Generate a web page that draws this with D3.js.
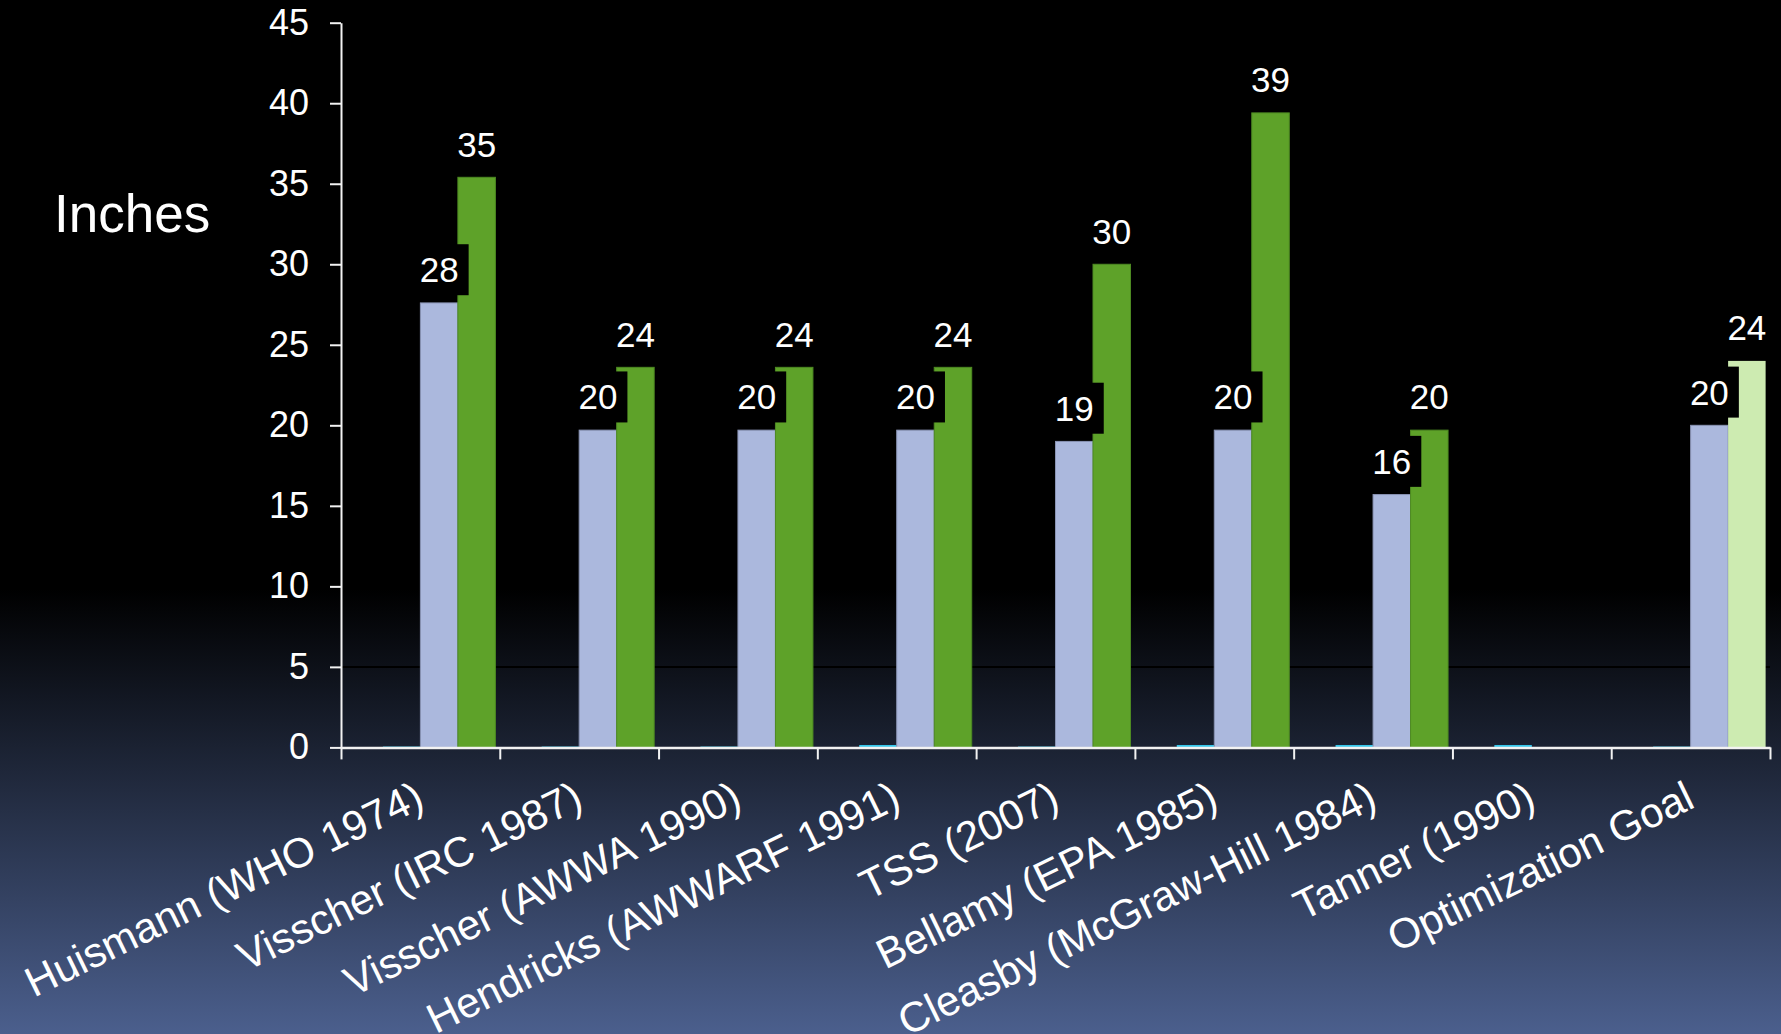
<!DOCTYPE html>
<html>
<head>
<meta charset="utf-8">
<script src="https://cdn.jsdelivr.net/npm/d3@7"></script>
<style>
  html, body { margin: 0; padding: 0; background: #000; }
  svg { display: block; }
  text { font-family: "Liberation Sans", Arial, sans-serif; fill: #ffffff; }
</style>
</head>
<body>
<svg id="chart" width="1781" height="1034"></svg>
<script>
// Chart values
var categories = [
  "Huismann (WHO 1974)",
  "Visscher (IRC 1987)",
  "Visscher (AWWA 1990)",
  "Hendricks (AWWARF 1991)",
  "TSS (2007)",
  "Bellamy (EPA 1985)",
  "Cleasby (McGraw-Hill 1984)",
  "Tanner (1990)",
  "Optimization Goal"
];
// four series per category; the first one is empty in the source chart
var seriesKeys = ["blank", "thin", "low", "high"];
var blankValues = [0, 0, 0, 0, 0, 0, 0, 0, 0];
var thinValues  = [0.05, 0.05, 0.05, 0.15, 0.05, 0.15, 0.15, 0.15, 0.05];
var lowValues   = [27.6, 19.7, 19.7, 19.7, 19.0, 19.7, 15.7, null, 20.0];
var highValues  = [35.4, 23.6, 23.6, 23.6, 30.0, 39.4, 19.7, null, 24.0];
var yTicks = [0, 5, 10, 15, 20, 25, 30, 35, 40, 45];
var yTitle = "Inches";

var seriesColors = { blank: "none", thin: "#35c6ea", low: "#abb8dd", high: "#5ea229" };
var seriesStroke = { blank: "none", thin: "none", low: "#8a94b4", high: "#4d8a22" };
var goalColor = "#cdebb1";

var svg = d3.select("#chart"),
  W = +svg.attr("width"),
  H = +svg.attr("height");

// Background: black top fading to slate blue at the bottom
var defs = svg.append("defs");
var grad = defs.append("linearGradient")
  .attr("id", "bg").attr("x1", 0).attr("y1", 0).attr("x2", 0).attr("y2", 1);
grad.append("stop").attr("offset", 0).attr("stop-color", "#000000");
grad.append("stop").attr("offset", 0.57).attr("stop-color", "#000000");
grad.append("stop").attr("offset", 1).attr("stop-color", "#4b5f8d");
svg.append("rect").attr("width", W).attr("height", H).attr("fill", "url(#bg)");

var plot = { left: 341, right: 1770, top: 22.7, bottom: 747.4 };

var y = d3.scaleLinear().domain([0, 45]).range([plot.bottom, plot.top]);
var x0 = d3.scaleBand().domain(categories).range([plot.left, plot.right]).padding(0);
var x1 = d3.scaleBand().domain(seriesKeys).range([0, x0.bandwidth()])
  .paddingInner(0).paddingOuter(0.117);
var xEdge = d3.scaleLinear().domain([0, categories.length]).range([plot.left, plot.right]);

// faint dark band line at the 5 level
svg.append("line")
  .attr("x1", plot.left).attr("x2", plot.right)
  .attr("y1", y(5)).attr("y2", y(5))
  .attr("stroke", "#000").attr("stroke-width", 2);

var rows = categories.map(function(c, i) {
  return { cat: c, blank: blankValues[i], thin: thinValues[i], low: lowValues[i], high: highValues[i] };
});

var bars = [];
rows.forEach(function(r) {
  seriesKeys.forEach(function(k) {
    if (r[k] === null || k === "blank") { return; }
    bars.push({ cat: r.cat, key: k, value: r[k] });
  });
});

function barFill(d) {
  if (d.key === "high" && d.cat === "Optimization Goal") { return goalColor; }
  return seriesColors[d.key];
}
function barStroke(d) {
  if (d.key === "high" && d.cat === "Optimization Goal") { return "none"; }
  return seriesStroke[d.key];
}

svg.append("g").selectAll("rect")
  .data(bars)
  .enter()
  .append("rect")
    .attr("x", function(d) { return x0(d.cat) + x1(d.key); })
    .attr("y", function(d) { return y(d.value); })
    .attr("width", x1.bandwidth())
    .attr("height", function(d) { return y(0) - y(d.value); })
    .attr("fill", barFill)
    .attr("stroke", barStroke)
    .attr("stroke-width", 1);

// Data labels with black boxes behind them
var fmt = d3.format(".0f");
var labelled = bars.filter(function(d) { return d.key === "low" || d.key === "high"; });
var lab = svg.append("g").selectAll("g")
  .data(labelled)
  .enter()
  .append("g")
    .attr("transform", function(d) {
      var cx = x0(d.cat) + x1(d.key) + x1.bandwidth() / 2;
      return "translate(" + cx + "," + (y(d.value) - 20.7) + ")";
    });
lab.append("rect")
  .attr("x", -29.5).attr("y", -38).attr("width", 59).attr("height", 51)
  .attr("fill", "#000");
lab.append("text")
  .attr("text-anchor", "middle")
  .attr("font-size", 35)
  .text(function(d) { return fmt(d.value); });

// Y axis
var yAxis = svg.append("g")
  .attr("transform", "translate(" + plot.left + ",0)")
  .call(d3.axisLeft(y).tickValues(yTicks).tickSize(11).tickSizeOuter(0).tickPadding(21));
yAxis.select(".domain").attr("stroke", "#f2f2f2").attr("stroke-width", 2);
yAxis.selectAll(".tick line").attr("stroke", "#f2f2f2").attr("stroke-width", 2);
yAxis.selectAll(".tick text")
  .attr("font-size", 36).attr("fill", "#fff")
  .style("font-family", "'Liberation Sans', Arial, sans-serif");

// X axis: ticks on category boundaries
var xAxis = svg.append("g")
  .attr("transform", "translate(0," + plot.bottom + ")")
  .call(d3.axisBottom(xEdge).tickValues(d3.range(categories.length + 1))
    .tickSize(12).tickSizeOuter(0).tickFormat(""));
xAxis.select(".domain").attr("stroke", "#f2f2f2").attr("stroke-width", 2.5);
xAxis.selectAll(".tick line").attr("stroke", "#f2f2f2").attr("stroke-width", 2);

// Rotated category labels
svg.append("g").selectAll("text")
  .data(categories)
  .enter()
  .append("text")
    .attr("text-anchor", "end")
    .attr("font-size", 42)
    .attr("transform", function(d) {
      var cx = x0(d) + x0.bandwidth() / 2 + 6;
      return "translate(" + cx + "," + (plot.bottom + 59) + ") rotate(-26)";
    })
    .text(function(d) { return d; });

// Y title
svg.append("text")
  .attr("x", 54)
  .attr("y", 232)
  .attr("font-size", 53)
  .text(yTitle);
</script>
</body>
</html>
